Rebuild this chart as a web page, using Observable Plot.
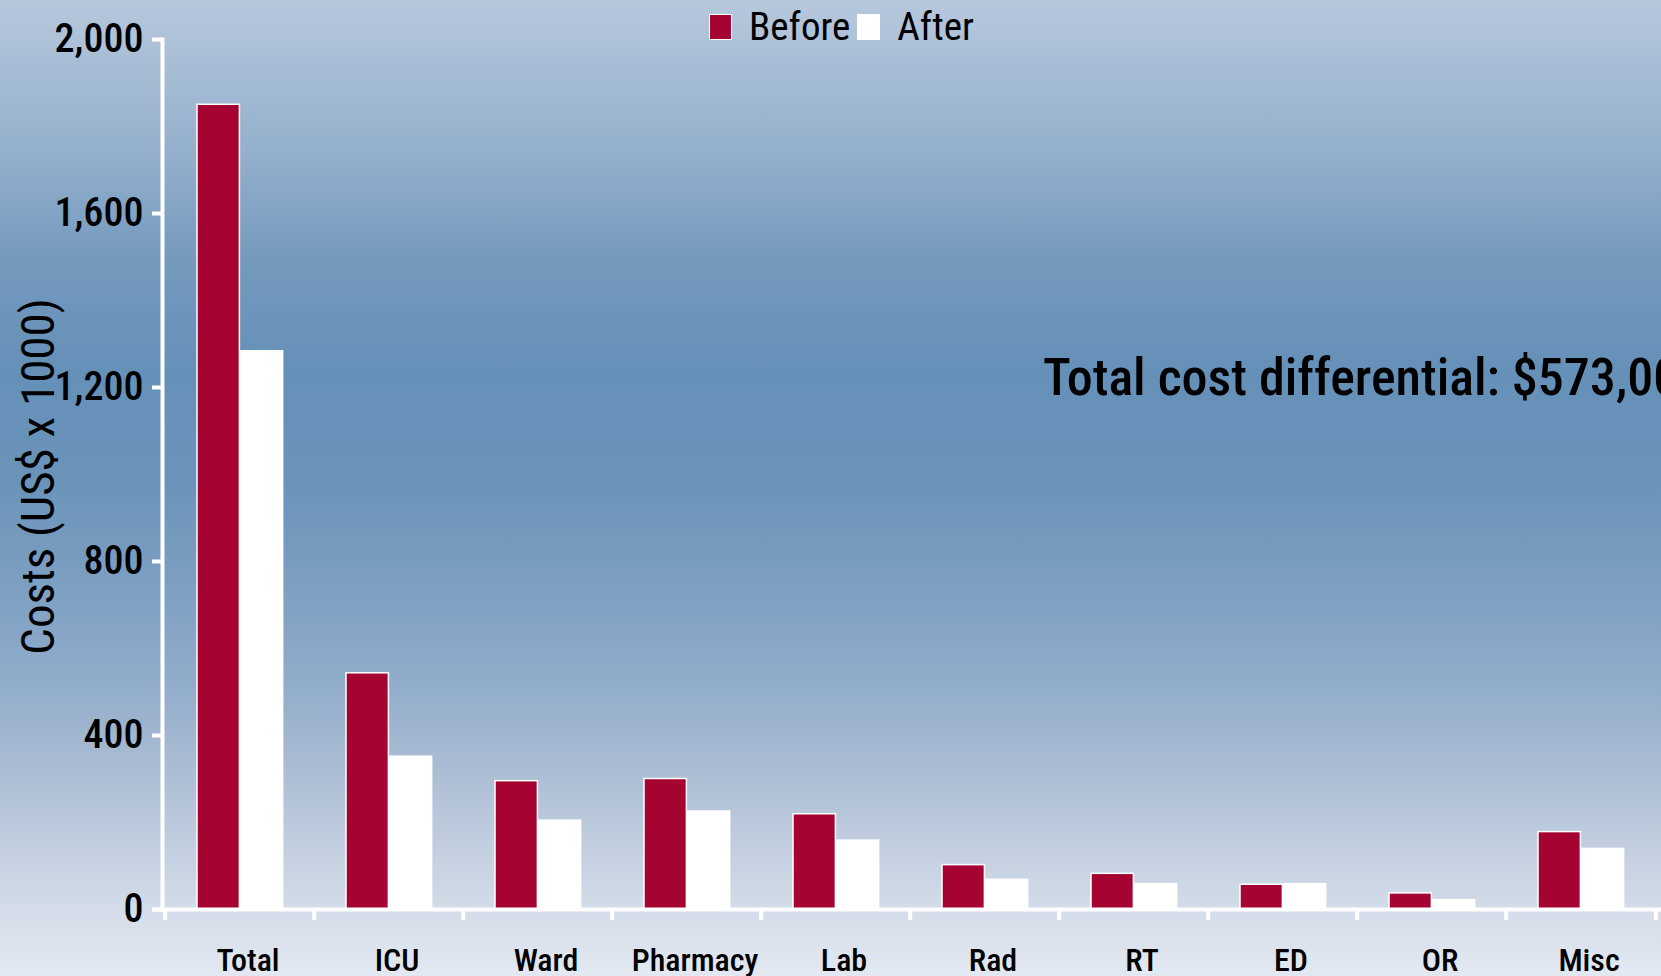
<!DOCTYPE html>
<html>
<head>
<meta charset="utf-8">
<script src="https://cdn.jsdelivr.net/npm/d3@7"></script>
<script src="https://cdn.jsdelivr.net/npm/@observablehq/plot@0.6"></script>
<style>
  html, body { margin: 0; padding: 0; overflow: hidden; }
  #wrap {
    position: relative; width: 1661px; height: 976px;
    background: linear-gradient(to bottom,
      #b7c8dc 0%, #93afcc 16%, #7499bd 27%, #6590b8 38%, #6a93b9 49%,
      #7d9fc2 60%, #93aecc 71%, #a3b7d0 76%, #d3dce8 93%, #e3e9f2 100%);
    font-family: Roboto, "Open Sans", sans-serif;
    font-stretch: 75%;
  }
  #wrap svg, #wrap svg text { font-stretch: 75%; }
  #legend { position: absolute; left: 709px; top: 4px; display: flex; align-items: center; font-size: 39px; color: #000; }
  #legend .sw { width: 23px; height: 26px; box-sizing: border-box; display: inline-block; }
  #legend .lab { margin-left: 17px; margin-right: 7px; }
</style>
</head>
<body>
<div id="wrap"><div id="legend"></div></div>
<script>
const categories = ["Total", "ICU", "Ward", "Pharmacy", "Lab", "Rad", "RT", "ED", "OR", "Misc"];
const beforeValues = [1850, 543, 295, 300, 219, 102, 82, 57, 37, 178];
const afterValues = [1285, 353, 206, 227, 160, 70, 60, 60, 23, 141];
const seriesNames = ["Before", "After"];
const seriesColors = ["#a50432", "#ffffff"];
const yTicks = [0, 400, 800, 1200, 1600, 2000];
const yTitle = "Costs (US$ x 1000)";
const noteText = "Total cost differential: $573,000";
const noteCategory = "Rad";
const noteValue = 1222;

const fontStack = 'Roboto, "Open Sans", sans-serif';

const beforeRows = categories.map((c, i) => ({category: c, series: "Before", value: beforeValues[i]}));
const afterRows = categories.map((c, i) => ({category: c, series: "After", value: afterValues[i]}));

const chart = Plot.plot({
  width: 1661,
  height: 976,
  marginLeft: 162,
  marginRight: 3,
  marginTop: 39,
  marginBottom: 67,
  style: {background: "transparent", fontFamily: fontStack, overflow: "visible"},
  x: {domain: categories, padding: 0},
  y: {domain: [0, 2000]},
  marks: [
    Plot.barY(beforeRows, {x: "category", y: "value", fill: seriesColors[0], stroke: "white", strokeWidth: 1.5, insetLeft: 32, insetRight: 74.6}),
    Plot.barY(afterRows, {x: "category", y: "value", fill: seriesColors[1], insetLeft: 75, insetRight: 30.6}),
    Plot.frame({anchor: "left", stroke: "white", strokeWidth: 4}),
    Plot.ruleY([0], {stroke: "white", strokeWidth: 4, insetLeft: -10, insetRight: -3}),
    Plot.axisY({ticks: yTicks, tickFormat: d3.format(","), tickSize: 10, tickPadding: 9, stroke: "white", strokeWidth: 4, fill: "black", fontSize: 40, fontWeight: 500, label: null}),
    Plot.axisX({tickSize: 11, tickFormat: () => "", dx: -74.8, stroke: "white", strokeWidth: 4, label: null}),
    Plot.axisX({ticks: [categories[categories.length - 1]], tickSize: 11, tickFormat: () => "", dx: 74.8, stroke: "white", strokeWidth: 4, label: null}),
    Plot.axisX({tickSize: 0, tickPadding: 39, dx: 8, fill: "black", fontSize: 32, fontWeight: 500, label: null}),
    Plot.text([yTitle], {frameAnchor: "left", textAnchor: "middle", rotate: -90, dx: -124, dy: 2, fontSize: 47, fill: "black"}),
    Plot.text([noteText], {x: () => noteCategory, y: () => noteValue, dx: 58, textAnchor: "start", fontSize: 52, fontWeight: 500, fill: "black"})
  ]
});

const wrap = document.getElementById("wrap");
wrap.appendChild(chart);
chart.style.position = "absolute";
chart.style.left = "0";
chart.style.top = "0";
const legend = document.getElementById("legend");
wrap.appendChild(legend);
seriesNames.forEach((name, i) => {
  const sw = document.createElement("span");
  sw.className = "sw";
  sw.style.background = seriesColors[i];
  if (i === 0) sw.style.border = "1.5px solid white";
  const lab = document.createElement("span");
  lab.className = "lab";
  lab.textContent = name;
  legend.appendChild(sw);
  legend.appendChild(lab);
});
</script>
</body>
</html>
